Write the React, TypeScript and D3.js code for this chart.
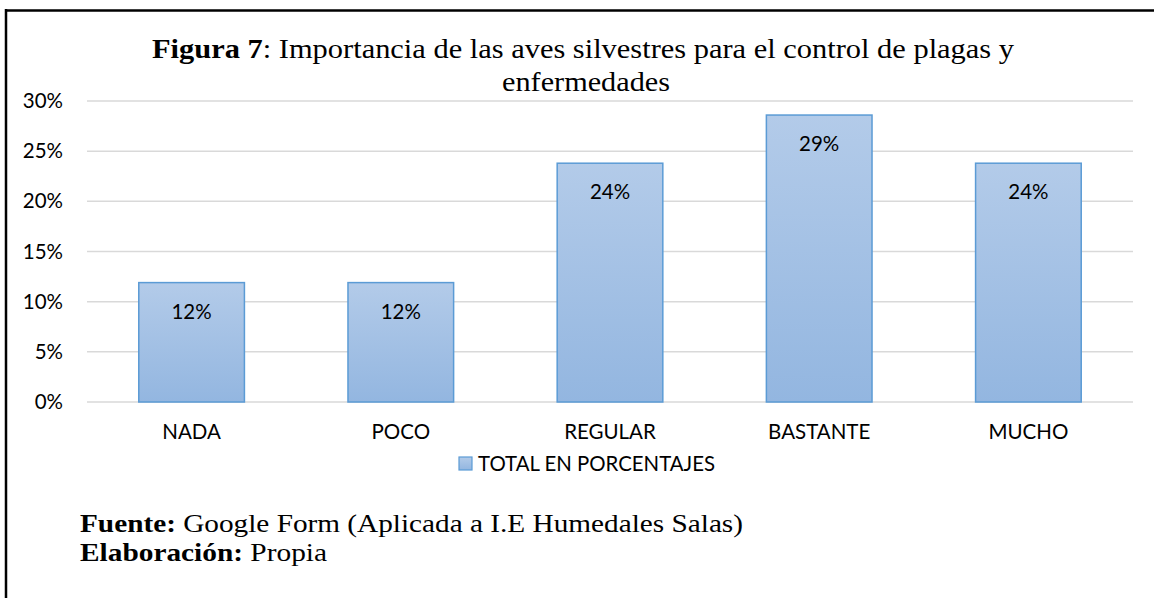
import React from "react";
import * as d3 from "d3";

const categories = ["NADA", "POCO", "REGULAR", "BASTANTE", "MUCHO"];
const values = [11.9, 11.9, 23.8, 28.6, 23.8];
const labels = ["12%", "12%", "24%", "29%", "24%"];
const yTicks = [0, 5, 10, 15, 20, 25, 30];
const seriesName = "TOTAL EN PORCENTAJES";

const W = 1154;
const H = 598;
const plot = { left: 87, right: 1133, top: 101, bottom: 402 };
const sans = "Lato, 'Open Sans', sans-serif";
const serif = "'Liberation Serif', 'Times New Roman', serif";

export default function App() {
  const x = d3.scaleBand().domain(categories).range([plot.left, plot.right]).paddingInner(0.495).paddingOuter(0.2475);
  const y = d3.scaleLinear().domain([0, 30]).range([plot.bottom, plot.top]);
  return (
    <svg width={W} height={H} style={{ position: "absolute", left: 0, top: 0, background: "#fff" }}>
      <defs>
        <linearGradient id="barGrad" x1="0" y1="0" x2="0" y2="1">
          <stop offset="0%" stopColor="#b3cbe9" />
          <stop offset="100%" stopColor="#93b6e0" />
        </linearGradient>
      </defs>
      <line x1={6} y1={10.5} x2={W} y2={10.5} stroke="#000" strokeWidth={2.5} />
      <line x1={6} y1={9} x2={6} y2={H} stroke="#000" strokeWidth={2.5} />
      <text x={152} y={58} fontFamily={serif} fontSize={27} fill="#000" textLength={862} lengthAdjust="spacingAndGlyphs">
        <tspan fontWeight="bold">Figura 7</tspan>: Importancia de las aves silvestres para el control de plagas y
      </text>
      <text x={502} y={91} fontFamily={serif} fontSize={27} fill="#000" textLength={168} lengthAdjust="spacingAndGlyphs">enfermedades</text>
      {yTicks.map((t) => (
        <g key={t}>
          <line x1={plot.left} x2={plot.right} y1={y(t)} y2={y(t)} stroke="#d9d9d9" strokeWidth={1.5} />
          <text x={63} y={y(t) + 7} textAnchor="end" fontFamily={sans} fontSize={20.5} fill="#000">{t}%</text>
        </g>
      ))}
      {categories.map((c, i) => (
        <g key={c}>
          <rect x={x(c)} y={y(values[i])} width={x.bandwidth()} height={y(0) - y(values[i])} fill="url(#barGrad)" stroke="#5b9bd5" strokeWidth={1.5} />
          <text x={(x(c) as number) + x.bandwidth() / 2} y={y(values[i]) + 36} textAnchor="middle" fontFamily={sans} fontSize={20.5} fill="#000">{labels[i]}</text>
          <text x={(x(c) as number) + x.bandwidth() / 2} y={439} textAnchor="middle" fontFamily={sans} fontSize={20.5} fill="#000">{c}</text>
        </g>
      ))}
      <rect x={459} y={457} width={13} height={13} fill="url(#barGrad)" stroke="#5b9bd5" strokeWidth={1.2} />
      <text x={478} y={471} fontFamily={sans} fontSize={20.5} fill="#000" textLength={237} lengthAdjust="spacingAndGlyphs">{seriesName}</text>
      <text x={80} y={532} fontFamily={serif} fontSize={26} fill="#000" textLength={663} lengthAdjust="spacingAndGlyphs">
        <tspan fontWeight="bold">Fuente:</tspan> Google Form (Aplicada a I.E Humedales Salas)
      </text>
      <text x={80} y={561} fontFamily={serif} fontSize={26} fill="#000" textLength={247} lengthAdjust="spacingAndGlyphs">
        <tspan fontWeight="bold">Elaboración:</tspan> Propia
      </text>
    </svg>
  );
}
